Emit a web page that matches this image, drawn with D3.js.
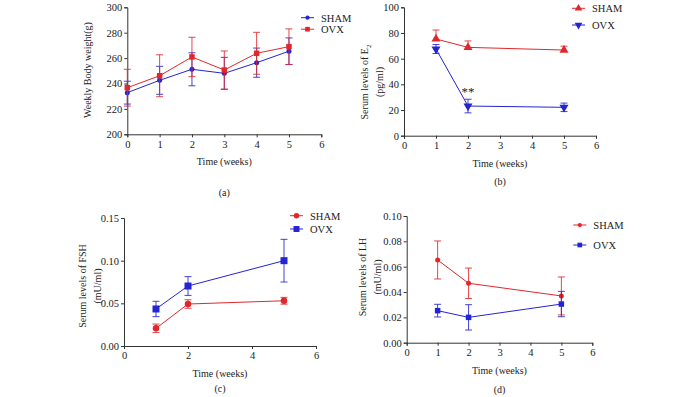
<!DOCTYPE html>
<html lang="en">
<head>
    <meta charset="UTF-8">
    <title>Body weight and serum hormones</title>
    <script src="https://d3js.org/d3.v7.min.js"></script>
    <style>
        body { margin: 0; background: #fff; }
        text { font-family: "Liberation Serif", "Times New Roman", serif; fill: #222; }
    </style>
</head>
<body>
<script>
    const width  = 700;
    const height = 397;
    const red  = "#e0282c";
    const blue = "#2424d2";

    // (a) weekly body weight
    const weeksA        = [0, 1, 2, 3, 4, 5];
    const shamWeight    = [232.8, 242.5, 251.2, 248.0, 256.4, 265.4];
    const shamWeightSd  = [9, 11, 13, 12.6, 11.5, 10.5];
    const ovxWeight     = [236.7, 246.1, 260.9, 250.6, 263.8, 269.0];
    const ovxWeightSd   = [14.5, 16.5, 15.5, 15, 16.5, 14];

    // (b)-(d) serum levels, measured at weeks 1, 2 and 5
    const weeksB   = [1, 2, 5];
    const shamE2   = [75.3, 68.8, 66.7];
    const shamE2Sd = [7, 5, 3];
    const ovxE2    = [67.5, 23.1, 22.1];
    const ovxE2Sd  = [3.5, 5.3, 3.3];

    const shamFsh   = [0.0207, 0.0492, 0.053];
    const shamFshSd = [0.005, 0.005, 0.004];
    const ovxFsh    = [0.0434, 0.0703, 0.100];
    const ovxFshSd  = [0.009, 0.011, 0.025];

    const shamLh   = [0.0653, 0.0469, 0.0369];
    const shamLhSd = [0.015, 0.012, 0.015];
    const ovxLh    = [0.0253, 0.0200, 0.0305];
    const ovxLhSd  = [0.005, 0.010, 0.010];

    const yTicksA = [200, 220, 240, 260, 280, 300];
    const yTicksB = [0, 20, 40, 60, 80, 100];
    const yTicksC = [0, 0.05, 0.10, 0.15];
    const yTicksD = [0, 0.02, 0.04, 0.06, 0.08, 0.10];

    const svg = d3.select("body").append("svg")
        .attr("width", width)
        .attr("height", height);

    function marker(g, shape, x, y, size, color) {
        if (shape === "circle") {
            g.append("circle").attr("cx", x).attr("cy", y).attr("r", size / 2).attr("fill", color);
        } else if (shape === "square") {
            g.append("rect").attr("x", x - size / 2).attr("y", y - size / 2)
                .attr("width", size).attr("height", size).attr("fill", color);
        } else {
            const sym = d3.symbol().type(d3.symbolTriangle).size(size * size * 0.55);
            g.append("path").attr("d", sym())
                .attr("transform", "translate(" + [x, y] + ")" + (shape === "down" ? " rotate(180)" : ""))
                .attr("fill", color);
        }
    }

    function panel(p) {
        const x = d3.scaleLinear().domain([0, 6]).range([p.x0, p.x1]);
        const y = d3.scaleLinear().domain(p.yDomain).range([p.y1, p.y0]);
        const g = svg.append("g");

        g.append("g")
            .attr("transform", "translate(0," + p.y1 + ")")
            .call(d3.axisBottom(x).tickValues(p.xTicks).tickSize(3).tickPadding(3).tickFormat(d3.format("d")))
            .call(a => a.selectAll("text").attr("font-size", 10.5).attr("font-family", "Liberation Serif"));
        g.append("g")
            .attr("transform", "translate(" + p.x0 + ",0)")
            .call(d3.axisLeft(y).tickValues(p.yTicks).tickSize(3).tickPadding(2).tickFormat(p.yFormat))
            .call(a => a.selectAll("text").attr("font-size", 10.5).attr("font-family", "Liberation Serif"));
        g.selectAll(".domain, .tick line").attr("stroke", "#333").attr("stroke-width", 1);

        // titles
        const cx = (p.x0 + p.x1) / 2;
        g.append("text").attr("x", cx).attr("y", p.y1 + 31).attr("text-anchor", "middle")
            .attr("font-size", 10).text("Time (weeks)");
        g.append("text").attr("x", cx).attr("y", p.capY).attr("text-anchor", "middle")
            .attr("font-size", 10).text(p.caption);
        p.yLabel.forEach((l, i) => {
            const t = g.append("text")
                .attr("transform", "translate(" + (p.labelX + i * 15) + "," + p.labelY + ") rotate(-90)")
                .attr("text-anchor", "middle").attr("font-size", 10);
            t.text(l.text);
            if (l.sub) t.append("tspan").attr("font-size", 7).attr("dy", 3).text(l.sub);
        });

        // series
        p.series.forEach(s => {
            const pts = s.weeks.map((w, i) => ({w: w, m: s.mean[i], sd: s.sd[i]}));
            g.append("path")
                .attr("d", d3.line().x(d => x(d.w)).y(d => y(d.m))(pts))
                .attr("fill", "none").attr("stroke", s.color).attr("stroke-width", 1);
            pts.forEach(d => {
                const lo = s.upOnly ? d.m : d.m - d.sd;
                const hi = d.m + d.sd;
                g.append("line").attr("x1", x(d.w)).attr("x2", x(d.w))
                    .attr("y1", y(lo)).attr("y2", y(hi))
                    .attr("stroke", s.color).attr("stroke-width", 1).attr("opacity", 0.85);
                [hi].concat(s.upOnly ? [] : [lo]).forEach(v => {
                    g.append("line").attr("x1", x(d.w) - 3.5).attr("x2", x(d.w) + 3.5)
                        .attr("y1", y(v)).attr("y2", y(v))
                        .attr("stroke", s.color).attr("stroke-width", 1).attr("opacity", 0.85);
                });
                marker(g, s.shape, x(d.w), y(d.m), s.size, s.color);
            });
        });

        // legend
        p.series.forEach((s, i) => {
            const ly = p.legY + i * p.legGap;
            g.append("line").attr("x1", p.legX).attr("x2", p.legX + 13)
                .attr("y1", ly).attr("y2", ly).attr("stroke", s.color).attr("stroke-width", 1);
            marker(g, s.shape, p.legX + 6.5, ly, s.size * 0.85, s.color);
            g.append("text").attr("x", p.legX + 20).attr("y", ly + 4)
                .attr("font-size", 10.5).text(s.name);
        });
    }

    panel({
        x0: 127.3, x1: 321.3, y0: 7.3, y1: 134.3,
        yDomain: [200, 300], yTicks: yTicksA, xTicks: d3.range(0, 7),
        yFormat: d3.format("d"),
        yLabel: [{text: "Weekly Body weight(g)"}], labelX: 91, labelY: 70,
        caption: "(a)", capY: 196,
        legX: 301, legY: 17.7, legGap: 11.5,
        series: [
            {name: "SHAM", weeks: weeksA, mean: shamWeight, sd: shamWeightSd, color: blue, shape: "circle", size: 5},
            {name: "OVX",  weeks: weeksA, mean: ovxWeight,  sd: ovxWeightSd,  color: red,  shape: "square", size: 5.5}
        ]
    });

    panel({
        x0: 404, x1: 596, y0: 7.3, y1: 135.7,
        yDomain: [0, 100], yTicks: yTicksB, xTicks: d3.range(0, 7),
        yFormat: d3.format("d"),
        yLabel: [{text: "Serum levels of E", sub: "2"}, {text: "(pg/ml)"}], labelX: 368, labelY: 82,
        caption: "(b)", capY: 185,
        legX: 572, legY: 8.3, legGap: 16.7,
        series: [
            {name: "SHAM", weeks: weeksB, mean: shamE2, sd: shamE2Sd, color: red,  shape: "up",   size: 8, upOnly: true},
            {name: "OVX",  weeks: weeksB, mean: ovxE2,  sd: ovxE2Sd,  color: blue, shape: "down", size: 8}
        ]
    });
    svg.append("text").attr("x", 468).attr("y", 96).attr("text-anchor", "middle")
        .attr("font-size", 13).text("**");

    panel({
        x0: 124, x1: 316, y0: 218, y1: 346,
        yDomain: [0, 0.15], yTicks: yTicksC, xTicks: [0, 2, 4, 6],
        yFormat: d3.format(".2f"),
        yLabel: [{text: "Serum levels of FSH"}, {text: "(mU/ml)"}], labelX: 86, labelY: 286,
        caption: "(c)", capY: 392,
        legX: 290, legY: 215.7, legGap: 13.3,
        series: [
            {name: "SHAM", weeks: weeksB, mean: shamFsh, sd: shamFshSd, color: red,  shape: "circle", size: 6.5},
            {name: "OVX",  weeks: weeksB, mean: ovxFsh,  sd: ovxFshSd,  color: blue, shape: "square", size: 7}
        ]
    });

    panel({
        x0: 406.7, x1: 592.3, y0: 216, y1: 342.7,
        yDomain: [0, 0.10], yTicks: yTicksD, xTicks: d3.range(0, 7),
        yFormat: d3.format(".2f"),
        yLabel: [{text: "Serum levels of LH"}, {text: "(mU/ml)"}], labelX: 366, labelY: 277,
        caption: "(d)", capY: 393,
        legX: 573.3, legY: 225, legGap: 20,
        series: [
            {name: "SHAM", weeks: weeksB, mean: shamLh, sd: shamLhSd, color: red,  shape: "circle", size: 5},
            {name: "OVX",  weeks: weeksB, mean: ovxLh,  sd: ovxLhSd,  color: blue, shape: "square", size: 5.5}
        ]
    });
</script>
</body>
</html>
